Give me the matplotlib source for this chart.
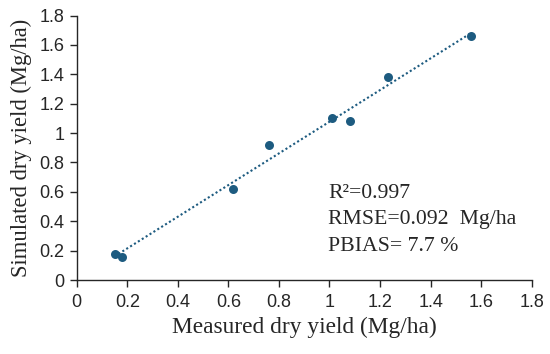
import numpy as np
import matplotlib
matplotlib.use("Agg")
import matplotlib.pyplot as plt

measured = [0.15, 0.18, 0.62, 0.76, 1.01, 1.08, 1.23, 1.56]
simulated = [0.18, 0.16, 0.62, 0.92, 1.10, 1.08, 1.38, 1.66]
x_ticks = [0, 0.2, 0.4, 0.6, 0.8, 1, 1.2, 1.4, 1.6, 1.8]
y_ticks = [0, 0.2, 0.4, 0.6, 0.8, 1, 1.2, 1.4, 1.6, 1.8]
stats_lines = ["R²=0.997", "RMSE=0.092  Mg/ha", "PBIAS= 7.7 %"]

color = "#1d5b80"
txt = "#262626"

fig = plt.figure(figsize=(5.5, 3.54), dpi=100)
ax = fig.add_axes([0.1395, 0.209, 0.8272, 0.747])

ax.scatter(measured, simulated, s=42, color=color, zorder=3, linewidths=0)
m, b = np.polyfit(measured, simulated, 1)
xs = np.array([min(measured), max(measured)])
ax.plot(xs, m * xs + b, linestyle=(0, (1, 1.2)), color=color, linewidth=1.5, zorder=2)

ax.set_xlim(0, 1.8)
ax.set_ylim(0, 1.8)
ax.set_xticks(x_ticks)
ax.set_yticks(y_ticks)
fmt = lambda v: ("%g" % v)
ax.set_xticklabels([fmt(v) for v in x_ticks], fontfamily="Liberation Sans", fontsize=13, color=txt)
ax.set_yticklabels([fmt(v) for v in y_ticks], fontfamily="Liberation Sans", fontsize=13, color=txt)
for s in ["top", "right"]:
    ax.spines[s].set_visible(False)
for s in ["left", "bottom"]:
    ax.spines[s].set_color(txt)
    ax.spines[s].set_linewidth(1.0)
ax.tick_params(axis="both", direction="out", length=5, width=1.0, color=txt)
ax.tick_params(axis="x", pad=5)
ax.tick_params(axis="y", pad=4)

ax.set_xlabel("Measured dry yield (Mg/ha)", fontfamily="Liberation Serif", fontsize=16.8, color=txt, labelpad=4)
ax.set_ylabel("Simulated dry yield (Mg/ha)", fontfamily="Liberation Serif", fontsize=16.3, color=txt, labelpad=5)

for t, yv in zip(stats_lines, [0.329, 0.227, 0.125]):
    ax.text(0.552, yv, t, transform=ax.transAxes, fontfamily="Liberation Serif", fontsize=15.7, color=txt, va="center", ha="left")

fig.savefig("out.png", dpi=100)
